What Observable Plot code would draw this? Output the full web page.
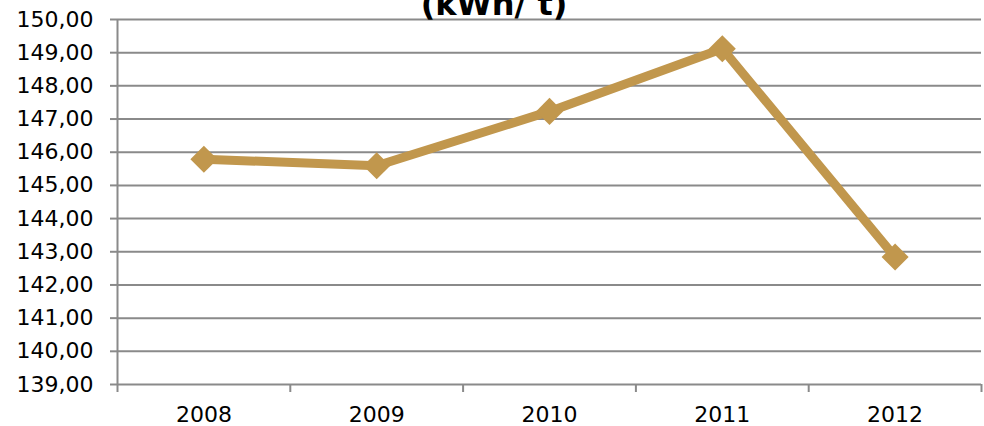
<!DOCTYPE html>
<html>
<head>
<meta charset="utf-8">
<script src="https://cdn.jsdelivr.net/npm/d3@7"></script>
<script src="https://cdn.jsdelivr.net/npm/@observablehq/plot@0.6"></script>
<style>
  html, body { margin: 0; padding: 0; background: #fff; overflow: hidden; }
  #wrap { position: relative; width: 984px; height: 426px; }
  #title {
    position: absolute; left: 0; width: 988px; top: -12px;
    text-align: center; font: bold 32px "DejaVu Sans", sans-serif;
    line-height: 32px; color: #000; white-space: nowrap; z-index: 2;
  }
  #title span { position: absolute; left: 494px; transform: translateX(-50%); }
</style>
</head>
<body>
<div id="wrap"><div id="title"><span>(kWh/ t)</span></div></div>
<script>
const years = [2008, 2009, 2010, 2011, 2012];
const values = [145.79, 145.59, 147.23, 149.12, 142.84];
const yTicks = [139, 140, 141, 142, 143, 144, 145, 146, 147, 148, 149, 150];
const bandEdges = [2007.5, 2008.5, 2009.5, 2010.5, 2011.5, 2012.5];

const data = years.map((y, i) => ({year: y, value: values[i]}));
const gray = "#8a8a8a";
const lineColor = "#C1974D";
const fmt = d => d.toFixed(2).replace(".", ",");

const chart = Plot.plot({
  width: 984,
  height: 426,
  marginLeft: 117,
  marginRight: 3,
  marginTop: 19,
  marginBottom: 42,
  style: {fontFamily: "DejaVu Sans, sans-serif", fontSize: "22px", color: "#000", background: "#fff"},
  x: {type: "linear", domain: [2007.5, 2012.5], axis: null, label: null},
  y: {domain: [139, 150], axis: null, label: null},
  marks: [
    Plot.gridY(yTicks, {stroke: gray, strokeOpacity: 1, strokeWidth: 2}),
    Plot.ruleX([2007.5], {y1: 139, y2: 150, stroke: gray, strokeWidth: 2}),
    Plot.axisY({ticks: yTicks, label: null, tickSize: 7, tickPadding: 17, tickFormat: fmt, stroke: gray, strokeWidth: 2, fontSize: 22, fill: "#000"}),
    Plot.axisX({ticks: bandEdges, label: null, tickSize: 8, tickPadding: 0, tickFormat: () => "", stroke: gray, strokeWidth: 2}),
    Plot.axisX({ticks: years, label: null, tickSize: 0, tickPadding: 22, tickFormat: d => String(d), fontSize: 22, fill: "#000"}),
    Plot.line(data, {x: "year", y: "value", stroke: lineColor, strokeWidth: 9, strokeLinejoin: "miter"}),
    Plot.dot(data, {x: "year", y: "value", symbol: "diamond2", r: 12.2, fill: lineColor, stroke: "none", ariaLabel: "markers"})
  ]
});

document.getElementById("wrap").appendChild(chart);
d3.select(chart).selectAll("g[aria-label='markers']")
  .style("filter", "drop-shadow(2px 4px 2px rgba(0,0,0,0.55))");
</script>
</body>
</html>
